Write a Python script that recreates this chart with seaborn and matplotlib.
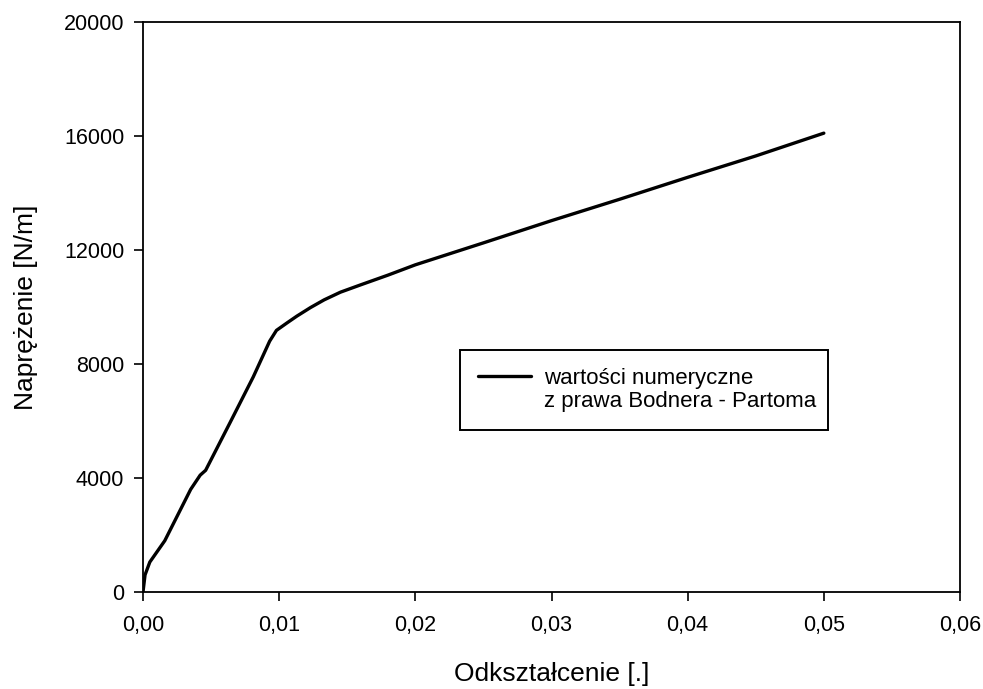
import matplotlib
matplotlib.use("Agg")
import matplotlib.pyplot as plt
from matplotlib.lines import Line2D
from matplotlib.ticker import FuncFormatter
import seaborn as sns
import pandas as pd

# strain / stress curve (Bodner-Partom law)
strain = [0.0, 0.00015, 0.0005, 0.0016, 0.0035, 0.0042, 0.0046, 0.0064, 0.0081,
          0.0093, 0.0098, 0.0106, 0.0113, 0.0123, 0.0133, 0.0145, 0.016, 0.018,
          0.02, 0.025, 0.03, 0.035, 0.04, 0.045, 0.05]
stress = [0, 600, 1050, 1800, 3600, 4100, 4270, 5950, 7550,
          8800, 9180, 9450, 9680, 9980, 10250, 10520, 10780, 11120,
          11480, 12250, 13030, 13780, 14550, 15300, 16100]

x_ticks = [0.0, 0.01, 0.02, 0.03, 0.04, 0.05, 0.06]
y_ticks = [0, 4000, 8000, 12000, 16000, 20000]

legend_lines = ["wartości numeryczne", "z prawa Bodnera - Partoma"]

df = pd.DataFrame({"strain": strain, "stress": stress})

sns.set_style("ticks")
plt.rcParams["font.family"] = ["Liberation Sans", "DejaVu Sans"]

fig = plt.figure(figsize=(9.83, 6.89), dpi=100)
ax = fig.add_axes([143 / 983, 1 - 592 / 689, 817 / 983, 570 / 689])

sns.lineplot(data=df, x="strain", y="stress", ax=ax, color="black",
             linewidth=2.4, label=legend_lines[0], sort=False)

ax.set_xlim(0, 0.06)
ax.set_ylim(0, 20000)
ax.set_xticks(x_ticks)
ax.set_yticks(y_ticks)
ax.xaxis.set_major_formatter(FuncFormatter(lambda v, p: f"{v:.2f}".replace(".", ",")))
ax.yaxis.set_major_formatter(FuncFormatter(lambda v, p: f"{int(round(v))}"))

for s in ax.spines.values():
    s.set_visible(True)
    s.set_linewidth(1.3)
    s.set_color("black")

ax.tick_params(axis="both", direction="out", length=6.5, width=1.2,
               colors="black", labelsize=15.5)
ax.tick_params(axis="x", pad=10)
ax.tick_params(axis="y", pad=7)

ax.set_xlabel("Odkształcenie [.]", fontsize=19, color="black")
ax.set_ylabel("Naprężenie [N/m]", fontsize=19, color="black")
ax.xaxis.set_label_coords(0.5, -0.122)
ax.yaxis.set_label_coords(-0.128, 0.5)

handles, labels = ax.get_legend_handles_labels()
handles.append(Line2D([], [], color="none"))
labels.append(legend_lines[1])
leg = ax.legend(handles, labels, loc="upper left",
                bbox_to_anchor=(0.388, 0.4246, 0.45, 0.0), mode="expand",
                frameon=True, fancybox=False, framealpha=1, edgecolor="black",
                fontsize=16, borderpad=0.8, labelspacing=0.12,
                handlelength=2.4, handletextpad=0.6, borderaxespad=0)
leg.get_frame().set_linewidth(1.4)
for t in leg.get_texts():
    t.set_color("black")

fig.savefig("out.png", dpi=100)
